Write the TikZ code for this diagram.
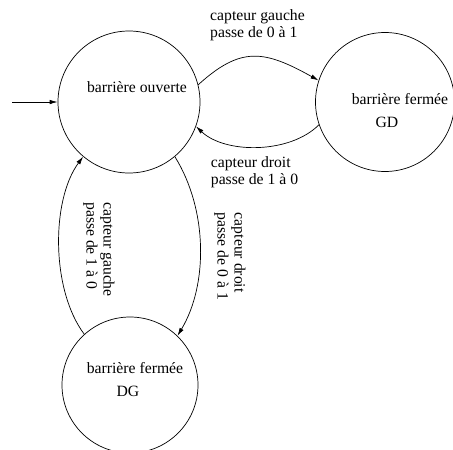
\documentclass[tikz,border=0pt]{standalone}
\usepackage{fontspec}
\setmainfont{Liberation Serif}
\usetikzlibrary{arrows.meta}
\begin{document}
\begin{tikzpicture}[x=1pt,y=-1pt,
  state/.style={draw,circle,line width=0.7pt,minimum size=#1,inner sep=0pt},
  txt/.style={font=\fontsize{15.7}{17}\selectfont,inner sep=0pt,align=left},
  trans/.style={line width=0.7pt,-{Latex[length=8pt,width=4.5pt]}}]
  \useasboundingbox (0,0) rectangle (453,450);
  % states
  \node[state=142pt] (o) at (129,102) {};
  \node[state=139pt] (gd) at (385,102) {};
  \node[state=136pt] (dg) at (130,385) {};
  % state names
  \node[txt] (to) at (137,87) {barrière ouverte};
  \node[txt] (tgd1) at (400,99) {barrière fermée};
  \node[txt] (tgd2) at (387,122) {GD};
  \node[txt] (tdg1) at (135,368) {barrière fermée};
  \node[txt] (tdg2) at (128,391) {DG};
  % initial state
  \coordinate (start) at (12,102);
  \draw[trans] (start) -- (o.west);
  % transitions
  \draw[trans] (o.14) .. controls (241,46) and (264,50) .. (gd.162);
  \draw[trans] (gd.-161) .. controls (290,154) and (225,154) .. (o.-20);
  \draw[trans] (o.-50) .. controls (208,210) and (208,285) .. (dg.46);
  \draw[trans] (dg.132) .. controls (51,290) and (51,200) .. (o.-130);
  % transition labels
  \node[txt] (l1) at (257.5,25) {capteur gauche\\passe de 0 à 1};
  \node[txt] (l2) at (254.5,172.5) {capteur droit\\passe de 1 à 0};
  \node[txt,rotate=-90] (l3) at (230,256.5) {capteur droit\\passe de 0 à 1};
  \node[txt,rotate=-90] (l4) at (99,249.5) {capteur gauche\\passe de 1 à 0};
\end{tikzpicture}
\end{document}
